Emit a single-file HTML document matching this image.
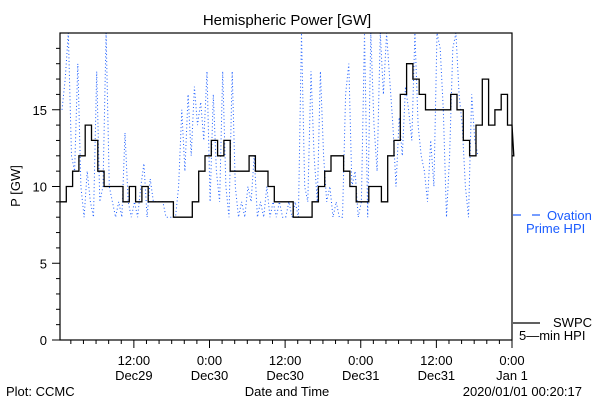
<!DOCTYPE html>
<html><head><meta charset="utf-8">
<style>
html,body{margin:0;padding:0;background:#fff;}
svg{display:block;font-family:"Liberation Sans",sans-serif;}
</style></head>
<body>
<svg id="chart" width="600" height="400" viewBox="0 0 600 400">
<rect width="600" height="400" fill="#fff"/>
<text x="287" y="25" font-size="15" text-anchor="middle">Hemispheric Power [GW]</text>
<text x="20" y="186" font-size="13" text-anchor="middle" transform="rotate(-90 20 186)">P [GW]</text>
<text x="287" y="396" font-size="13" text-anchor="middle">Date and Time</text>
<text x="6" y="396" font-size="13">Plot: CCMC</text>
<text x="582" y="396" font-size="13" text-anchor="end">2020/01/01 00:20:17</text>
<g id="grid"></g>
<g id="series"></g>
<rect x="60" y="33" width="452" height="307" fill="none" stroke="#000" stroke-width="1.2"/>
<g id="axes"></g>
<g>
<line x1="513" y1="215" x2="521" y2="215" stroke="#1a5cff" stroke-width="1.2"/>
<line x1="532" y1="215" x2="540" y2="215" stroke="#1a5cff" stroke-width="1.2"/>
<text x="547" y="220" font-size="13" fill="#1a5cff">Ovation</text>
<text x="526" y="233" font-size="13" fill="#1a5cff">Prime HPI</text>
<line x1="513" y1="323" x2="540" y2="323" stroke="#000" stroke-width="1.2"/>
<text x="553" y="327" font-size="13">SWPC</text>
<text x="519" y="340" font-size="13">5—min HPI</text>
</g>
</svg>
<script>
// SWPC hourly values (hour offset from Dec29 00:00 = index + 0.6)
const swpcValues = [9,10,11,12,14,13,11,10,10,10,9,10,9,10,9,9,9,9,8,8,8,9,11,12,13,12,13,11,11,11,12,11,11,10,9,9,9,8,8,8,9,10,11,12,12,11,10,9,9,10,10,9,12,13,16,18,17,16,15,15,15,15,16,15,13,12,14,17,14,15,16,14,12];
// Ovation Prime times (hours from Dec29 00:00) and values
const ovationTimes = [0.6,1.1,1.6,2.1,2.6,3.1,3.6,4.1,4.6,5.1,5.6,6.1,6.6,7.1,7.6,8.1,8.6,9.1,9.6,10.1,10.6,11.1,11.6,12.1,12.6,13.1,13.6,14.1,14.6,15.1,15.6,16.1,16.6,17.1,17.6,18.1,18.6,19.1,19.6,20.1,20.6,21.1,21.6,22.1,22.6,23.1,23.6,24.1,24.6,25.1,25.6,26.1,26.6,27.1,27.6,28.1,28.6,29.1,29.6,30.1,30.6,31.1,31.6,32.1,32.6,33.1,33.6,34.1,34.6,35.1,35.6,36.1,36.6,37.1,37.6,38.1,38.6,39.1,39.6,40.1,40.6,41.1,41.6,42.1,42.6,43.1,43.6,44.1,44.6,45.1,45.6,46.1,46.6,47.1,47.6,48.1,48.6,49.1,49.6,50.1,50.6,51.1,51.6,52.1,52.6,53.1,53.6,54.1,54.6,55.1,55.6,56.1,56.6,57.1,57.6,58.1,58.6,59.1,59.6,60.1,60.6,61.1,61.6,62.1,62.6,63.1,63.6,64.1,64.6,65.1,65.6,66.1,66.6,67.1,67.6,68.1,68.6,69.1,69.6,70.1,70.6,71.1,71.6,72.0];
const ovationValues = [15,17,20,12,11,18,10,8,11,9,8,17.5,9,10,20,10,9,8,9,8,13.5,9,8,9,8,10,11.5,8,10.5,9,9,9,9,8,8,8,8,10,15,11,16,12,16.5,14,15.5,13,17.5,9,16,11,9,17.5,10,8,17.5,10,8,9,8,10,9,12,8,9,8,10,8,9,8,9,8,8,9,8,9,8,20,10,9,17.5,12,9,17.5,12,9,10,8,9,8,8,16,18,10,11,8,9,20,8,20,14,11,20,16,20,17,14,10,14.5,12,16.5,15,13,20,14,12,11,9,13,10,20,19,15,8,12,19,20,16,14,10,8,16,13,12];
const tickTimes = [12,24,36,48,60,72];
const tickTop = ["12:00","0:00","12:00","0:00","12:00","0:00"];
const tickBottom = ["Dec29","Dec30","Dec30","Dec31","Dec31","Jan 1"];
const yTicks = [0,5,10,15];

const NS="http://www.w3.org/2000/svg";
const X0=60,X1=512,Y0=340,Y1=33,T0=0.28,T1=72,V1=20;
const xs=t=>X0+(t-T0)*(X1-X0)/(T1-T0);
const ys=v=>Y0-v*(Y0-Y1)/V1;
function mk(tag,attrs,parent){const e=document.createElementNS(NS,tag);for(const k in attrs)e.setAttribute(k,attrs[k]);parent.appendChild(e);return e;}
const axes=document.getElementById('axes');
const series=document.getElementById('series');

// y ticks
for(let v=0;v<=19;v++){
  const major=v%5===0;
  const t=mk('line',{x1:X0,x2:X0-(major?8:4),y1:ys(v),y2:ys(v),stroke:'#000','stroke-width':1},axes);
  
  
}
yTicks.forEach(v=>{
  const t=mk('text',{x:X0-13,y:ys(v)+5,'font-size':13,'text-anchor':'end'},axes);
  t.textContent=v;
  
  
});
// x ticks: minor every 2h
for(let h=2;h<=72;h+=2){
  if(h<T0)continue;
  const major=h%12===0;
  const t=mk('line',{x1:xs(h),x2:xs(h),y1:Y0,y2:Y0+(major?8:4),stroke:'#000','stroke-width':1},axes);
  
  
}
tickTimes.forEach((h,i)=>{
  const a=mk('text',{x:xs(h),y:365,'font-size':13,'text-anchor':'middle'},axes);
  a.textContent=tickTop[i];
  
  
  const b=mk('text',{x:xs(h),y:380,'font-size':13,'text-anchor':'middle'},axes);
  b.textContent=tickBottom[i];
  
  
});
// Ovation dotted line
let d='';
ovationTimes.forEach((t,i)=>{d+=(i?'L':'M')+xs(Math.min(t,T1)).toFixed(1)+' '+ys(ovationValues[i]).toFixed(1);});
const ov=mk('path',{d:d,fill:'none',stroke:'#1a5cff','stroke-width':1,'stroke-dasharray':'1 2.5'},series);


// SWPC step line
let s='';
swpcValues.forEach((v,i)=>{
  const t0=Math.max(i+0.6,T0)-0.6+0.28, t1=Math.min(i+1+0.28,T1);
  const a=xs(Math.max(T0,i+0.28)), b=xs(t1);
  s+=(i?'L':'M')+a.toFixed(1)+' '+ys(v).toFixed(1)+'L'+b.toFixed(1)+' '+ys(v).toFixed(1);
});
const sw=mk('path',{d:s,fill:'none',stroke:'#000','stroke-width':1.3},series);


</script>
</body></html>
